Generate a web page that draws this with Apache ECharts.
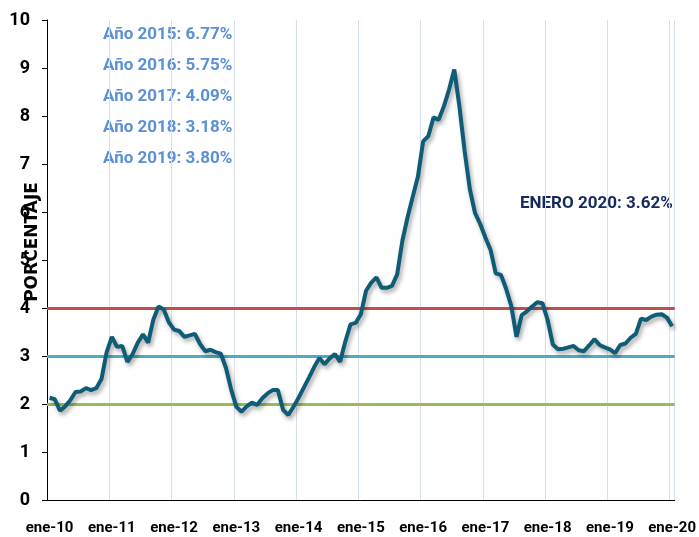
<!DOCTYPE html>
<html>
<head>
<meta charset="utf-8">
<script src="https://cdn.jsdelivr.net/npm/echarts@6/dist/echarts.min.js"></script>
<style>
  html, body { margin: 0; padding: 0; background: #fff; }
  #chart { width: 699px; height: 537px; }
</style>
</head>
<body>
<div id="chart"></div>
<script>
// monthly inflation, ene-10 .. ene-20
const monthNames = ["ene", "feb", "mar", "abr", "may", "jun", "jul", "ago", "sep", "oct", "nov", "dic"];
const months = [];
for (let y = 10; y <= 20; y++) {
  for (let m = 0; m < 12; m++) {
    if (y === 20 && m > 0) break;
    months.push(monthNames[m] + "-" + y);
  }
}

const inflacion = [
  2.13, 2.10, 1.86, 1.95, 2.08, 2.25, 2.26, 2.33, 2.29, 2.33, 2.52, 3.08,
  3.40, 3.19, 3.21, 2.88, 3.04, 3.28, 3.45, 3.28, 3.76, 4.03, 3.97, 3.70,
  3.55, 3.52, 3.40, 3.43, 3.46, 3.25, 3.10, 3.13, 3.08, 3.05, 2.75, 2.30,
  1.94, 1.84, 1.95, 2.03, 1.98, 2.12, 2.22, 2.29, 2.29, 1.88, 1.77, 1.94,
  2.13, 2.34, 2.55, 2.77, 2.96, 2.83, 2.95, 3.04, 2.88, 3.30, 3.66, 3.69,
  3.87, 4.36, 4.53, 4.64, 4.42, 4.42, 4.46, 4.70, 5.40, 5.89, 6.32, 6.74,
  7.47, 7.58, 7.97, 7.92, 8.20, 8.55, 8.97, 8.20, 7.27, 6.48, 5.98, 5.75,
  5.47, 5.21, 4.72, 4.69, 4.40, 4.04, 3.40, 3.85, 3.93, 4.03, 4.12, 4.10,
  3.75, 3.24, 3.14, 3.15, 3.18, 3.21, 3.12, 3.10, 3.22, 3.35, 3.23, 3.18,
  3.14, 3.06, 3.23, 3.26, 3.38, 3.46, 3.78, 3.75, 3.82, 3.86, 3.87, 3.80,
  3.62
];

// target range lines
const limiteSuperior = 4;
const meta = 3;
const limiteInferior = 2;

const notasAnuales = [
  "Año 2015: 6.77%",
  "Año 2016: 5.75%",
  "Año 2017: 4.09%",
  "Año 2018: 3.18%",
  "Año 2019: 3.80%"
];
const notaEnero = "ENERO 2020: 3.62%";

const chart = echarts.init(document.getElementById("chart"));

const fuente = "Roboto, 'Noto Sans', sans-serif";

const graphics = notasAnuales.map((t, i) => ({
  type: "text",
  left: 103,
  top: 26 + i * 31,
  style: {
    text: t,
    fill: "#5B8FD6",
    font: "bold 17px " + fuente
  }
}));
graphics.push({
  type: "text",
  left: 520,
  top: 195,
  style: {
    text: notaEnero,
    fill: "#14295E",
    font: "bold 17px " + fuente
  }
});
graphics.push({
  type: "text",
  x: 33,
  y: 242,
  rotation: Math.PI / 2,
  style: {
    text: "PORCENTAJE",
    fill: "#000",
    align: "center",
    verticalAlign: "middle",
    font: "bold 17px 'DejaVu Sans', sans-serif"
  }
});

chart.setOption({
  animation: false,
  grid: {
    left: 47,
    right: 23,
    top: 20,
    bottom: 37
  },
  xAxis: {
    type: "category",
    data: months,
    boundaryGap: true,
    axisLine: { lineStyle: { color: "#000", width: 1 } },
    axisTick: { interval: 11, length: 5, lineStyle: { color: "#000" } },
    axisLabel: {
      interval: 11,
      color: "#000",
      fontSize: 15,
      fontWeight: "bold",
      fontFamily: fuente,
      margin: 21
    },
    splitLine: {
      show: true,
      interval: 11,
      lineStyle: { color: "#D6DFEC", width: 1 }
    }
  },
  yAxis: {
    type: "value",
    min: 0,
    max: 10,
    interval: 1,
    axisLine: { show: true, lineStyle: { color: "#000", width: 1 } },
    axisTick: { show: true, length: 5, lineStyle: { color: "#000" } },
    axisLabel: {
      color: "#000",
      fontSize: 18,
      fontWeight: "bold",
      fontFamily: fuente,
      margin: 17
    },
    splitLine: { show: false }
  },
  graphic: graphics,
  series: [
    {
      name: "Inflación",
      type: "line",
      data: inflacion,
      symbol: "none",
      smooth: false,
      z: 5,
      lineStyle: {
        color: "#0E5C75",
        width: 4,
        shadowColor: "rgba(0,0,0,0.35)",
        shadowBlur: 4,
        shadowOffsetX: 2,
        shadowOffsetY: 3
      },
      markLine: {
        silent: true,
        symbol: "none",
        label: { show: false },
        data: [
          { yAxis: limiteSuperior, lineStyle: { color: "#C0504D", width: 3, type: "solid" } },
          { yAxis: meta, lineStyle: { color: "#4BACC6", width: 3, type: "solid" } },
          { yAxis: limiteInferior, lineStyle: { color: "#9BBB59", width: 3, type: "solid" } }
        ]
      }
    }
  ]
});
</script>
</body>
</html>
